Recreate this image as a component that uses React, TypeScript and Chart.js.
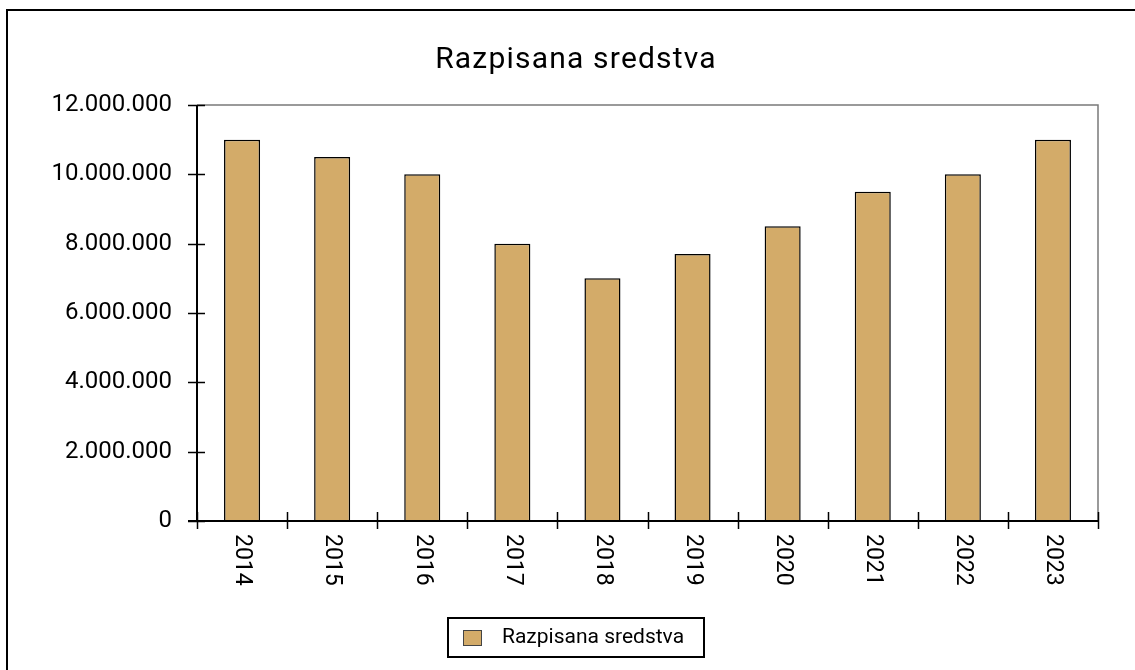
import React, { useEffect, useRef } from "react";
import { Chart, registerables } from "chart.js";

Chart.register(...registerables);

const TITLE = "Razpisana sredstva";
const SERIES_LABEL = "Razpisana sredstva";
const YEARS = ["2014", "2015", "2016", "2017", "2018", "2019", "2020", "2021", "2022", "2023"];
const VALUES = [11000000, 10500000, 10000000, 8000000, 7000000, 7700000, 8500000, 9500000, 10000000, 11000000];
const Y_MIN = 0;
const Y_MAX = 12000000;
const Y_STEP = 2000000;

const BAR_FILL = "rgb(211,171,105)";
const FONT = "Roboto, 'Noto Sans', sans-serif";

function fmt(v: number): string {
  return String(Math.round(v)).replace(/\B(?=(\d{3})+(?!\d))/g, ".");
}

const deco = {
  id: "deco",
  afterDatasetsDraw(chart: any) {
    const ctx = chart.ctx as CanvasRenderingContext2D;
    const { left, right, top, bottom } = chart.chartArea;
    const xs = chart.scales.x;
    const ys = chart.scales.y;
    ctx.save();
    ctx.strokeStyle = "#7a7a7a";
    ctx.lineWidth = 1.5;
    ctx.beginPath();
    ctx.moveTo(left, top);
    ctx.lineTo(right, top);
    ctx.lineTo(right, bottom);
    ctx.stroke();
    ctx.strokeStyle = "#000";
    ctx.lineWidth = 2;
    ctx.beginPath();
    ctx.moveTo(left, top);
    ctx.lineTo(left, bottom);
    ctx.moveTo(left - 9, bottom);
    ctx.lineTo(right, bottom);
    ctx.stroke();
    ctx.lineWidth = 1.5;
    ctx.beginPath();
    ys.ticks.forEach((t: any) => {
      const y = Math.round(ys.getPixelForValue(t.value)) + 0.5;
      ctx.moveTo(left - 9, y);
      ctx.lineTo(left + 8, y);
    });
    ctx.stroke();
    ctx.beginPath();
    for (let i = 0; i <= YEARS.length; i++) {
      const x = Math.round(xs.getPixelForValue(i - 0.5)) + 0.5;
      ctx.moveTo(x, bottom - 9);
      ctx.lineTo(x, bottom + 8);
    }
    ctx.stroke();
    ctx.restore();
  },
  afterDraw(chart: any) {
    const ctx = chart.ctx as CanvasRenderingContext2D;
    const xs = chart.scales.x;
    ctx.save();
    ctx.strokeStyle = "#000";
    ctx.lineWidth = 2;
    ctx.beginPath();
    ctx.moveTo(7, 670);
    ctx.lineTo(7, 10);
    ctx.lineTo(1135, 10);
    ctx.stroke();
    ctx.fillStyle = "#000";
    ctx.font = `30px ${FONT}`;
    (ctx as any).letterSpacing = "1.2px";
    ctx.textAlign = "center";
    ctx.textBaseline = "middle";
    ctx.fillText(TITLE, 576, 60);
    (ctx as any).letterSpacing = "0px";
    ctx.font = `23px ${FONT}`;
    ctx.textAlign = "left";
    ctx.textBaseline = "middle";
    YEARS.forEach((lab, i) => {
      const x = xs.getPixelForTick(i);
      ctx.save();
      ctx.translate(x, 534);
      ctx.rotate(Math.PI / 2);
      ctx.fillText(lab, 0, 0);
      ctx.restore();
    });
    ctx.lineWidth = 2;
    ctx.strokeStyle = "#000";
    ctx.strokeRect(448, 618, 256, 39);
    ctx.fillStyle = BAR_FILL;
    ctx.fillRect(463, 630, 19, 16);
    ctx.strokeStyle = "#444";
    ctx.lineWidth = 1;
    ctx.strokeRect(463.5, 630.5, 18, 15);
    ctx.fillStyle = "#000";
    ctx.font = `21px ${FONT}`;
    ctx.textAlign = "left";
    ctx.textBaseline = "middle";
    ctx.fillText(chart.data.datasets[0].label, 502, 638);
    ctx.restore();
  },
};

export default function App() {
  const ref = useRef<HTMLCanvasElement | null>(null);
  useEffect(() => {
    if (!ref.current) return;
    const chart = new Chart(ref.current, {
      type: "bar",
      data: {
        labels: YEARS,
        datasets: [
          {
            label: SERIES_LABEL,
            data: VALUES,
            backgroundColor: BAR_FILL,
            borderColor: "#000",
            borderWidth: 1.5,
            barPercentage: 0.4,
            categoryPercentage: 1,
          },
        ],
      },
      options: {
        responsive: false,
        animation: false,
        layout: { padding: { left: 0, right: 37, top: 105, bottom: 0 } },
        plugins: {
          legend: { display: false },
          title: { display: false },
          tooltip: { enabled: false },
        },
        scales: {
          x: {
            type: "category",
            offset: true,
            grid: { display: false, drawTicks: false },
            border: { display: false },
            ticks: { display: false },
            afterFit: (s: any) => {
              s.height = 149;
            },
          },
          y: {
            min: Y_MIN,
            max: Y_MAX,
            grid: { display: false, drawTicks: false },
            border: { display: false },
            ticks: {
              stepSize: Y_STEP,
              padding: 25,
              color: "#000",
              font: { family: FONT, size: 24 },
              callback: (v: any) => fmt(Number(v)),
            },
            afterFit: (s: any) => {
              s.width = 197;
            },
          },
        },
      },
      plugins: [deco],
    });
    return () => chart.destroy();
  }, []);
  return (
    <div style={{ position: "fixed", left: 0, top: 0, width: 1135, height: 670 }}>
      <canvas ref={ref} width={1135} height={670} style={{ display: "block" }} />
    </div>
  );
}
